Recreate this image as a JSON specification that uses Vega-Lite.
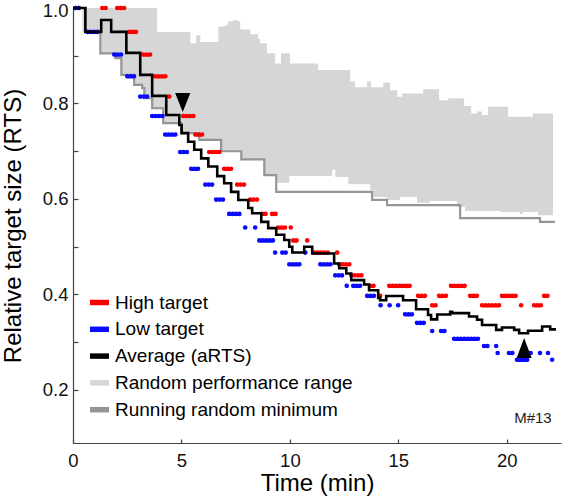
{
  "$schema": "https://vega.github.io/schema/vega-lite/v6.json",
  "width": 488,
  "height": 435,
  "autosize": {"type": "none"},
  "padding": {"left": 73, "top": 8, "right": 1, "bottom": 61},
  "config": {
    "font": "Liberation Sans",
    "view": {"stroke": null},
    "axis": {
      "grid": false,
      "domainColor": "#444444",
      "tickColor": "#444444",
      "domainWidth": 1.2,
      "tickWidth": 1.2,
      "labelColor": "#111111",
      "titleColor": "#000000",
      "labelFont": "Liberation Sans",
      "titleFont": "Liberation Sans",
      "titleFontWeight": "normal",
      "labelFontSize": 18.5,
      "titleFontSize": 24
    }
  },
  "datasets": {
    "band": [
      {"s": "Random performance range", "t": 0.43, "hi": 1.0, "lo": 0.95},
      {"s": "Random performance range", "t": 1.26, "hi": 1.0, "lo": 0.905},
      {"s": "Random performance range", "t": 1.95, "hi": 1.0, "lo": 0.895},
      {"s": "Random performance range", "t": 2.23, "hi": 1.0, "lo": 0.86},
      {"s": "Random performance range", "t": 2.82, "hi": 1.0, "lo": 0.839},
      {"s": "Random performance range", "t": 3.19, "hi": 1.0, "lo": 0.832},
      {"s": "Random performance range", "t": 3.29, "hi": 1.0, "lo": 0.811},
      {"s": "Random performance range", "t": 3.65, "hi": 1.0, "lo": 0.79},
      {"s": "Random performance range", "t": 3.88, "hi": 0.95, "lo": 0.79},
      {"s": "Random performance range", "t": 4.16, "hi": 0.95, "lo": 0.759},
      {"s": "Random performance range", "t": 4.99, "hi": 0.95, "lo": 0.738},
      {"s": "Random performance range", "t": 5.41, "hi": 0.926, "lo": 0.738},
      {"s": "Random performance range", "t": 5.68, "hi": 0.943, "lo": 0.738},
      {"s": "Random performance range", "t": 5.82, "hi": 0.943, "lo": 0.724},
      {"s": "Random performance range", "t": 5.87, "hi": 0.929, "lo": 0.724},
      {"s": "Random performance range", "t": 6.7, "hi": 0.961, "lo": 0.724},
      {"s": "Random performance range", "t": 6.83, "hi": 0.961, "lo": 0.7},
      {"s": "Random performance range", "t": 7.02, "hi": 0.965, "lo": 0.7},
      {"s": "Random performance range", "t": 7.16, "hi": 0.972, "lo": 0.7},
      {"s": "Random performance range", "t": 7.39, "hi": 0.975, "lo": 0.7},
      {"s": "Random performance range", "t": 7.57, "hi": 0.972, "lo": 0.7},
      {"s": "Random performance range", "t": 7.71, "hi": 0.955, "lo": 0.7},
      {"s": "Random performance range", "t": 7.76, "hi": 0.955, "lo": 0.683},
      {"s": "Random performance range", "t": 8.17, "hi": 0.945, "lo": 0.683},
      {"s": "Random performance range", "t": 8.54, "hi": 0.935, "lo": 0.683},
      {"s": "Random performance range", "t": 8.63, "hi": 0.926, "lo": 0.683},
      {"s": "Random performance range", "t": 8.82, "hi": 0.926, "lo": 0.65},
      {"s": "Random performance range", "t": 8.94, "hi": 0.905, "lo": 0.65},
      {"s": "Random performance range", "t": 9.32, "hi": 0.884, "lo": 0.65},
      {"s": "Random performance range", "t": 9.42, "hi": 0.884, "lo": 0.634},
      {"s": "Random performance range", "t": 9.59, "hi": 0.905, "lo": 0.634},
      {"s": "Random performance range", "t": 9.97, "hi": 0.905, "lo": 0.648},
      {"s": "Random performance range", "t": 10.01, "hi": 0.884, "lo": 0.648},
      {"s": "Random performance range", "t": 11.3, "hi": 0.87, "lo": 0.648},
      {"s": "Random performance range", "t": 11.95, "hi": 0.87, "lo": 0.661},
      {"s": "Random performance range", "t": 12.09, "hi": 0.87, "lo": 0.646},
      {"s": "Random performance range", "t": 12.69, "hi": 0.87, "lo": 0.631},
      {"s": "Random performance range", "t": 12.78, "hi": 0.846, "lo": 0.631},
      {"s": "Random performance range", "t": 13.01, "hi": 0.834, "lo": 0.631},
      {"s": "Random performance range", "t": 13.56, "hi": 0.846, "lo": 0.631},
      {"s": "Random performance range", "t": 13.7, "hi": 0.846, "lo": 0.619},
      {"s": "Random performance range", "t": 13.75, "hi": 0.834, "lo": 0.619},
      {"s": "Random performance range", "t": 13.84, "hi": 0.834, "lo": 0.604},
      {"s": "Random performance range", "t": 14.3, "hi": 0.844, "lo": 0.604},
      {"s": "Random performance range", "t": 14.48, "hi": 0.844, "lo": 0.598},
      {"s": "Random performance range", "t": 14.62, "hi": 0.828, "lo": 0.598},
      {"s": "Random performance range", "t": 14.95, "hi": 0.814, "lo": 0.598},
      {"s": "Random performance range", "t": 15.08, "hi": 0.814, "lo": 0.604},
      {"s": "Random performance range", "t": 15.18, "hi": 0.821, "lo": 0.604},
      {"s": "Random performance range", "t": 15.86, "hi": 0.821, "lo": 0.592},
      {"s": "Random performance range", "t": 16.14, "hi": 0.83, "lo": 0.592},
      {"s": "Random performance range", "t": 16.46, "hi": 0.83, "lo": 0.596},
      {"s": "Random performance range", "t": 16.88, "hi": 0.807, "lo": 0.596},
      {"s": "Random performance range", "t": 17.3, "hi": 0.811, "lo": 0.596},
      {"s": "Random performance range", "t": 17.71, "hi": 0.811, "lo": 0.583},
      {"s": "Random performance range", "t": 18.03, "hi": 0.795, "lo": 0.583},
      {"s": "Random performance range", "t": 18.08, "hi": 0.795, "lo": 0.575},
      {"s": "Random performance range", "t": 18.36, "hi": 0.779, "lo": 0.575},
      {"s": "Random performance range", "t": 18.63, "hi": 0.783, "lo": 0.575},
      {"s": "Random performance range", "t": 18.86, "hi": 0.776, "lo": 0.575},
      {"s": "Random performance range", "t": 19.14, "hi": 0.793, "lo": 0.575},
      {"s": "Random performance range", "t": 19.69, "hi": 0.793, "lo": 0.573},
      {"s": "Random performance range", "t": 20.06, "hi": 0.772, "lo": 0.573},
      {"s": "Random performance range", "t": 20.61, "hi": 0.772, "lo": 0.569},
      {"s": "Random performance range", "t": 20.75, "hi": 0.772, "lo": 0.573},
      {"s": "Random performance range", "t": 21.2, "hi": 0.779, "lo": 0.573},
      {"s": "Random performance range", "t": 21.44, "hi": 0.779, "lo": 0.566},
      {"s": "Random performance range", "t": 22.13, "hi": 0.779, "lo": 0.566}
    ],
    "minline": [
      {"s": "Running random minimum", "t": 0.0, "v": 1.0},
      {"s": "Running random minimum", "t": 0.57, "v": 0.95},
      {"s": "Running random minimum", "t": 1.26, "v": 0.905},
      {"s": "Running random minimum", "t": 1.95, "v": 0.895},
      {"s": "Running random minimum", "t": 2.23, "v": 0.86},
      {"s": "Running random minimum", "t": 2.82, "v": 0.839},
      {"s": "Running random minimum", "t": 3.19, "v": 0.832},
      {"s": "Running random minimum", "t": 3.29, "v": 0.811},
      {"s": "Running random minimum", "t": 3.65, "v": 0.79},
      {"s": "Running random minimum", "t": 4.16, "v": 0.759},
      {"s": "Running random minimum", "t": 4.99, "v": 0.738},
      {"s": "Running random minimum", "t": 5.82, "v": 0.724},
      {"s": "Running random minimum", "t": 6.83, "v": 0.7},
      {"s": "Running random minimum", "t": 7.76, "v": 0.683},
      {"s": "Running random minimum", "t": 8.82, "v": 0.65},
      {"s": "Running random minimum", "t": 9.37, "v": 0.615},
      {"s": "Running random minimum", "t": 13.79, "v": 0.598},
      {"s": "Running random minimum", "t": 14.48, "v": 0.587},
      {"s": "Running random minimum", "t": 17.85, "v": 0.56},
      {"s": "Running random minimum", "t": 21.53, "v": 0.552},
      {"s": "Running random minimum", "t": 22.22, "v": 0.552}
    ],
    "avg": [
      {"s": "Average (aRTS)", "t": 0.0, "v": 1.0},
      {"s": "Average (aRTS)", "t": 0.57, "v": 0.95},
      {"s": "Average (aRTS)", "t": 1.3, "v": 0.975},
      {"s": "Average (aRTS)", "t": 1.76, "v": 0.95},
      {"s": "Average (aRTS)", "t": 2.46, "v": 0.906},
      {"s": "Average (aRTS)", "t": 3.1, "v": 0.86},
      {"s": "Average (aRTS)", "t": 3.65, "v": 0.816},
      {"s": "Average (aRTS)", "t": 4.3, "v": 0.776},
      {"s": "Average (aRTS)", "t": 4.9, "v": 0.755},
      {"s": "Average (aRTS)", "t": 5.01, "v": 0.738},
      {"s": "Average (aRTS)", "t": 5.31, "v": 0.72},
      {"s": "Average (aRTS)", "t": 5.59, "v": 0.703},
      {"s": "Average (aRTS)", "t": 5.91, "v": 0.685},
      {"s": "Average (aRTS)", "t": 6.24, "v": 0.668},
      {"s": "Average (aRTS)", "t": 6.65, "v": 0.648},
      {"s": "Average (aRTS)", "t": 6.97, "v": 0.633},
      {"s": "Average (aRTS)", "t": 7.29, "v": 0.615},
      {"s": "Average (aRTS)", "t": 7.62, "v": 0.598},
      {"s": "Average (aRTS)", "t": 8.08, "v": 0.581},
      {"s": "Average (aRTS)", "t": 8.26, "v": 0.57},
      {"s": "Average (aRTS)", "t": 8.68, "v": 0.552},
      {"s": "Average (aRTS)", "t": 9.0, "v": 0.539},
      {"s": "Average (aRTS)", "t": 9.37, "v": 0.525},
      {"s": "Average (aRTS)", "t": 9.74, "v": 0.514},
      {"s": "Average (aRTS)", "t": 9.97, "v": 0.5},
      {"s": "Average (aRTS)", "t": 10.11, "v": 0.488},
      {"s": "Average (aRTS)", "t": 10.66, "v": 0.5},
      {"s": "Average (aRTS)", "t": 11.03, "v": 0.486},
      {"s": "Average (aRTS)", "t": 12.04, "v": 0.465},
      {"s": "Average (aRTS)", "t": 12.27, "v": 0.455},
      {"s": "Average (aRTS)", "t": 12.6, "v": 0.444},
      {"s": "Average (aRTS)", "t": 12.83, "v": 0.43},
      {"s": "Average (aRTS)", "t": 13.42, "v": 0.421},
      {"s": "Average (aRTS)", "t": 13.65, "v": 0.409},
      {"s": "Average (aRTS)", "t": 14.07, "v": 0.393},
      {"s": "Average (aRTS)", "t": 14.16, "v": 0.388},
      {"s": "Average (aRTS)", "t": 14.44, "v": 0.397},
      {"s": "Average (aRTS)", "t": 15.22, "v": 0.388},
      {"s": "Average (aRTS)", "t": 15.82, "v": 0.369},
      {"s": "Average (aRTS)", "t": 16.37, "v": 0.357},
      {"s": "Average (aRTS)", "t": 16.51, "v": 0.348},
      {"s": "Average (aRTS)", "t": 16.79, "v": 0.358},
      {"s": "Average (aRTS)", "t": 17.39, "v": 0.364},
      {"s": "Average (aRTS)", "t": 17.48, "v": 0.361},
      {"s": "Average (aRTS)", "t": 18.26, "v": 0.354},
      {"s": "Average (aRTS)", "t": 18.63, "v": 0.347},
      {"s": "Average (aRTS)", "t": 18.86, "v": 0.336},
      {"s": "Average (aRTS)", "t": 19.51, "v": 0.326},
      {"s": "Average (aRTS)", "t": 19.78, "v": 0.331},
      {"s": "Average (aRTS)", "t": 20.34, "v": 0.326},
      {"s": "Average (aRTS)", "t": 20.57, "v": 0.319},
      {"s": "Average (aRTS)", "t": 20.98, "v": 0.324},
      {"s": "Average (aRTS)", "t": 21.63, "v": 0.333},
      {"s": "Average (aRTS)", "t": 22.0, "v": 0.327},
      {"s": "Average (aRTS)", "t": 22.27, "v": 0.327}
    ],
    "dots": [
      {"s": "High target", "t1": 0.11, "t2": 0.34, "v": 1.0},
      {"s": "High target", "t1": 1.35, "t2": 1.63, "v": 1.0},
      {"s": "High target", "t1": 2.04, "t2": 2.41, "v": 1.0},
      {"s": "High target", "t1": 2.59, "t2": 3.01, "v": 0.95},
      {"s": "High target", "t1": 3.24, "t2": 3.7, "v": 0.9025},
      {"s": "High target", "t1": 3.79, "t2": 4.3, "v": 0.857},
      {"s": "High target", "t1": 4.44, "t2": 4.58, "v": 0.8145},
      {"s": "High target", "t1": 5.08, "t2": 5.59, "v": 0.7738},
      {"s": "High target", "t1": 5.64, "t2": 6.1, "v": 0.7351},
      {"s": "High target", "t1": 6.28, "t2": 6.83, "v": 0.6983},
      {"s": "High target", "t1": 6.97, "t2": 7.44, "v": 0.6634},
      {"s": "High target", "t1": 7.57, "t2": 8.03, "v": 0.6302},
      {"s": "High target", "t1": 8.17, "t2": 8.54, "v": 0.5987},
      {"s": "High target", "t1": 8.72, "t2": 8.91, "v": 0.5688},
      {"s": "High target", "t1": 9.18, "t2": 9.37, "v": 0.5688},
      {"s": "High target", "t1": 9.46, "t2": 9.79, "v": 0.5404},
      {"s": "High target", "t1": 10.04, "t2": 10.07, "v": 0.5404},
      {"s": "High target", "t1": 10.15, "t2": 10.43, "v": 0.5133},
      {"s": "High target", "t1": 10.8, "t2": 10.84, "v": 0.5133},
      {"s": "High target", "t1": 11.12, "t2": 11.9, "v": 0.4877},
      {"s": "High target", "t1": 12.18, "t2": 12.21, "v": 0.4877},
      {"s": "High target", "t1": 12.27, "t2": 12.78, "v": 0.4633},
      {"s": "High target", "t1": 12.83, "t2": 13.38, "v": 0.4401},
      {"s": "High target", "t1": 13.7, "t2": 13.98, "v": 0.4181},
      {"s": "High target", "t1": 14.58, "t2": 15.68, "v": 0.4181},
      {"s": "High target", "t1": 17.43, "t2": 18.08, "v": 0.4181},
      {"s": "High target", "t1": 14.16, "t2": 14.3, "v": 0.3972},
      {"s": "High target", "t1": 15.91, "t2": 16.37, "v": 0.3972},
      {"s": "High target", "t1": 16.88, "t2": 17.34, "v": 0.3972},
      {"s": "High target", "t1": 18.31, "t2": 18.77, "v": 0.3972},
      {"s": "High target", "t1": 19.78, "t2": 20.43, "v": 0.3972},
      {"s": "High target", "t1": 21.72, "t2": 22.0, "v": 0.3972},
      {"s": "High target", "t1": 16.56, "t2": 16.83, "v": 0.3774},
      {"s": "High target", "t1": 18.86, "t2": 19.74, "v": 0.3774},
      {"s": "High target", "t1": 20.66, "t2": 20.69, "v": 0.3774},
      {"s": "High target", "t1": 21.26, "t2": 21.58, "v": 0.3774},
      {"s": "Low target", "t1": 0.11, "t2": 0.34, "v": 1.0},
      {"s": "Low target", "t1": 0.66, "t2": 1.26, "v": 0.95},
      {"s": "Low target", "t1": 1.9, "t2": 2.23, "v": 0.9025},
      {"s": "Low target", "t1": 2.5, "t2": 2.92, "v": 0.857},
      {"s": "Low target", "t1": 3.1, "t2": 3.56, "v": 0.8145},
      {"s": "Low target", "t1": 3.65, "t2": 4.16, "v": 0.7738},
      {"s": "Low target", "t1": 4.25, "t2": 4.76, "v": 0.7351},
      {"s": "Low target", "t1": 4.94, "t2": 5.31, "v": 0.6983},
      {"s": "Low target", "t1": 5.45, "t2": 5.91, "v": 0.6634},
      {"s": "Low target", "t1": 6.1, "t2": 6.47, "v": 0.6302},
      {"s": "Low target", "t1": 6.6, "t2": 7.02, "v": 0.5987},
      {"s": "Low target", "t1": 7.2, "t2": 7.71, "v": 0.5688},
      {"s": "Low target", "t1": 7.94, "t2": 8.08, "v": 0.5404},
      {"s": "Low target", "t1": 8.4, "t2": 8.43, "v": 0.5404},
      {"s": "Low target", "t1": 8.59, "t2": 9.28, "v": 0.5133},
      {"s": "Low target", "t1": 9.32, "t2": 9.35, "v": 0.4877},
      {"s": "Low target", "t1": 9.65, "t2": 9.83, "v": 0.4877},
      {"s": "Low target", "t1": 10.71, "t2": 10.84, "v": 0.4877},
      {"s": "Low target", "t1": 9.97, "t2": 10.57, "v": 0.4633},
      {"s": "Low target", "t1": 11.4, "t2": 11.9, "v": 0.4633},
      {"s": "Low target", "t1": 12.09, "t2": 12.55, "v": 0.4401},
      {"s": "Low target", "t1": 12.62, "t2": 12.65, "v": 0.4181},
      {"s": "Low target", "t1": 12.92, "t2": 13.38, "v": 0.4181},
      {"s": "Low target", "t1": 13.56, "t2": 13.93, "v": 0.3972},
      {"s": "Low target", "t1": 14.18, "t2": 14.21, "v": 0.3774},
      {"s": "Low target", "t1": 14.6, "t2": 14.63, "v": 0.3774},
      {"s": "Low target", "t1": 14.99, "t2": 15.08, "v": 0.3774},
      {"s": "Low target", "t1": 15.31, "t2": 15.77, "v": 0.3585},
      {"s": "Low target", "t1": 15.86, "t2": 16.28, "v": 0.3406},
      {"s": "Low target", "t1": 16.56, "t2": 16.59, "v": 0.3235},
      {"s": "Low target", "t1": 16.97, "t2": 17.25, "v": 0.3235},
      {"s": "Low target", "t1": 17.57, "t2": 18.72, "v": 0.3074},
      {"s": "Low target", "t1": 18.95, "t2": 19.14, "v": 0.292},
      {"s": "Low target", "t1": 19.51, "t2": 19.54, "v": 0.292},
      {"s": "Low target", "t1": 19.58, "t2": 19.61, "v": 0.2774},
      {"s": "Low target", "t1": 20.1, "t2": 20.38, "v": 0.2774},
      {"s": "Low target", "t1": 21.1, "t2": 21.13, "v": 0.2774},
      {"s": "Low target", "t1": 21.53, "t2": 21.56, "v": 0.2774},
      {"s": "Low target", "t1": 21.9, "t2": 21.93, "v": 0.2774},
      {"s": "Low target", "t1": 20.47, "t2": 20.98, "v": 0.2635},
      {"s": "Low target", "t1": 22.09, "t2": 22.23, "v": 0.2635}
    ]
  },
  "layer": [
    {
      "data": {"name": "band"},
      "mark": {"type": "area", "interpolate": "step-after", "opacity": 1},
      "encoding": {
        "x": {
          "field": "t", "type": "quantitative",
          "scale": {"domain": [0, 22.5], "nice": false, "zero": false},
          "axis": {"title": "Time (min)", "values": [0, 5, 10, 15, 20], "format": "d", "tickSize": -4, "labelPadding": 12, "titlePadding": 2, "labelFlush": false}
        },
        "y": {
          "field": "hi", "type": "quantitative",
          "scale": {"domain": [0.089, 1.0], "nice": false, "zero": false},
          "axis": {
            "title": "Relative target size (RTS)",
            "values": [0.2, 0.3, 0.4, 0.5, 0.6, 0.7, 0.8, 0.9, 1.0],
            "labelExpr": "round(datum.value*10) % 2 == 0 ? format(datum.value, '.1f') : ''",
            "labelOffset": {"condition": {"test": "datum.value > 0.99", "value": 2.5}, "value": 0},
            "tickSize": -5, "labelPadding": 10, "titlePadding": 17, "labelFlush": false
          }
        },
        "y2": {"field": "lo"},
        "color": {
          "field": "s", "type": "nominal",
          "scale": {
            "domain": ["High target", "Low target", "Average (aRTS)", "Random performance range", "Running random minimum"],
            "range": ["#ff0000", "#0a0aff", "#000000", "#d6d6d6", "#959595"]
          },
          "legend": {
            "orient": "none", "legendX": 14, "legendY": 282, "title": null,
            "symbolType": "stroke", "symbolSize": 361, "symbolStrokeWidth": 5.5,
            "labelFontSize": 19, "labelFont": "Liberation Sans", "labelColor": "#000000",
            "rowPadding": 2.8, "labelOffset": 3, "padding": 0, "labelLimit": 400,
            "encode": {"symbols": {"update": {"stroke": {"scale": "color", "field": "value"}, "fill": {"value": "transparent"}, "strokeWidth": {"value": 5.5}, "opacity": {"value": 1}}}}
          }
        }
      }
    },
    {
      "data": {"name": "minline"},
      "mark": {"type": "line", "interpolate": "step-after", "strokeWidth": 2.2},
      "encoding": {
        "x": {"field": "t", "type": "quantitative"},
        "y": {"field": "v", "type": "quantitative"},
        "color": {"field": "s", "type": "nominal"}
      }
    },
    {
      "data": {"name": "dots"},
      "mark": {"type": "rule", "strokeWidth": 4.6, "strokeCap": "round", "strokeDash": [0.01, 3.4]},
      "encoding": {
        "x": {"field": "t1", "type": "quantitative"},
        "x2": {"field": "t2"},
        "y": {"field": "v", "type": "quantitative"},
        "color": {"field": "s", "type": "nominal"}
      }
    },
    {
      "data": {"name": "avg"},
      "mark": {"type": "line", "interpolate": "step-after", "strokeWidth": 2.6},
      "encoding": {
        "x": {"field": "t", "type": "quantitative"},
        "y": {"field": "v", "type": "quantitative"},
        "color": {"field": "s", "type": "nominal"}
      }
    },
    {
      "data": {"values": [{"t": 5.06, "v": 0.802}]},
      "mark": {"type": "point", "shape": "M-0.8,-1L0.8,-1L0,1Z", "size": 361, "filled": true, "color": "#000000", "opacity": 1, "strokeWidth": 0},
      "encoding": {
        "x": {"field": "t", "type": "quantitative"},
        "y": {"field": "v", "type": "quantitative"}
      }
    },
    {
      "data": {"values": [{"t": 20.8, "v": 0.288}]},
      "mark": {"type": "point", "shape": "M-0.75,1L0.75,1L0,-1Z", "size": 400, "filled": true, "color": "#000000", "opacity": 1, "strokeWidth": 0},
      "encoding": {
        "x": {"field": "t", "type": "quantitative"},
        "y": {"field": "v", "type": "quantitative"}
      }
    },
    {
      "data": {"values": [{"t": 22.07, "v": 0.131, "label": "M#13"}]},
      "mark": {"type": "text", "align": "right", "baseline": "alphabetic", "fontSize": 15, "font": "Liberation Sans", "color": "#222222"},
      "encoding": {
        "x": {"field": "t", "type": "quantitative"},
        "y": {"field": "v", "type": "quantitative"},
        "text": {"field": "label"}
      }
    }
  ]
}
